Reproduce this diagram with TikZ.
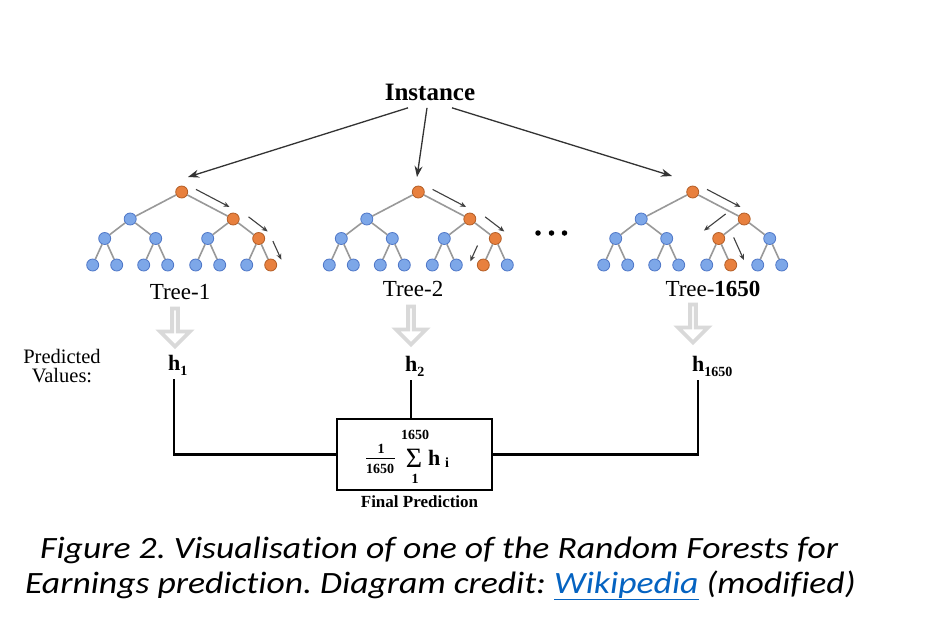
\documentclass[tikz,border=0pt]{standalone}
\usepackage{fontspec}
\setmainfont{Liberation Serif}
\newfontfamily\capfont[Ligatures=NoCommon]{Carlito}
\usetikzlibrary{arrows.meta, positioning, shapes.arrows, calc}
\definecolor{nodeblue}{RGB}{125,167,232}
\definecolor{nodeblueline}{RGB}{80,120,200}
\definecolor{nodeorange}{RGB}{232,128,62}
\definecolor{nodeorangeline}{RGB}{180,95,40}
\definecolor{linkblue}{RGB}{5,99,193}

% one binary tree: name, root x, the three orange nodes below the root
\newcommand\drawtree[5]{%
  \foreach \k/\dx/\dy in {1/0/192, 2/-51.5/219, 3/51.5/219,
      4/-77/238.5, 5/-26/238.5, 6/26/238.5, 7/77/238.5,
      8/-89/265, 9/-65/265, 10/-38/265, 11/-14/265,
      12/14/265, 13/38/265, 14/65/265, 15/89/265}{
    \pgfmathtruncatemacro\hit{(\k==1)||(\k==#3)||(\k==#4)||(\k==#5)}
    \ifnum\hit=1 \def\look{hit}\else\def\look{miss}\fi
    \node[\look] (#1-\k) at ({#2+(\dx)},\dy) {};
  }
  \foreach \k in {2,...,15}{
    \pgfmathtruncatemacro\up{\k/2}
    \draw[branch] (#1-\up) -- (#1-\k);
  }
}

\begin{document}
\begin{tikzpicture}[x=1pt, y=-1pt,
    miss/.style={circle, draw=nodeblueline, fill=nodeblue, minimum size=12pt, inner sep=0pt, line width=0.8pt},
    hit/.style={miss, draw=nodeorangeline, fill=nodeorange},
    branch/.style={gray!80, line width=1.6pt},
    route/.style={-{Stealth[length=6pt, width=5pt]}, black!75, line width=1.1pt},
    feed/.style={-{Stealth[length=11pt, width=8pt]}, black!80, line width=1.3pt},
    hollow/.style={single arrow, rotate=-90, draw=gray!30, fill=white, line width=3.8pt,
        minimum height=38pt, minimum width=30pt, single arrow head extend=8pt, inner sep=0pt},
    dot/.style={circle, fill=black, minimum size=5.5pt, inner sep=0pt},
    tlbl/.style={font=\fontsize{23}{26}\selectfont},
    hval/.style={font=\fontsize{22}{24}\selectfont\bfseries, inner sep=0pt, anchor=base west},
    sumtxt/.style={font=\fontsize{14}{14}\selectfont\bfseries, inner sep=0pt},
    link/.style={line width=2.5pt, black},
    caption/.style={anchor=base west, inner sep=0pt, font=\capfont\itshape\fontsize{31}{36}\selectfont\frenchspacing}
  ]
  \path[use as bounding box, fill=white] (0,0) rectangle (950,619);

  \node[font=\fontsize{25}{28}\selectfont\bfseries] (inst) at (430,92) {Instance};

  \drawtree{t1}{181.7}{3}{7}{15}
  \drawtree{t2}{418.3}{3}{7}{14}
  \drawtree{t3}{692.7}{3}{6}{13}

  \coordinate (in1) at (188,177);
  \coordinate (in2) at (417,177);
  \coordinate (in3) at (672,176);
  \draw[feed] ([xshift=-22pt, yshift=-4pt]inst.south) -- (in1);
  \draw[feed] ([xshift=-3pt, yshift=-4pt]inst.south) -- (in2);
  \draw[feed] ([xshift=22pt, yshift=-4pt]inst.south) -- (in3);

  % decision paths
  \foreach \t in {t1,t2,t3}
    \draw[route] ($(\t-1)!.2!(\t-3)+(4,-8)$) -- ($(\t-1)!.85!(\t-3)+(4,-8)$);
  \foreach \t in {t1,t2}
    \draw[route] ($(\t-3)!.25!(\t-7)+(9,-7)$) -- ($(\t-3)!1!(\t-7)+(9,-7)$);
  \draw[route] ($(t1-7)!.1!(t1-15)+(13,0)$) -- ($(t1-7)!.8!(t1-15)+(13,0)$);
  \draw[route] ($(t2-7)!.15!(t2-14)+(-16,3)$) -- ($(t2-7)!.75!(t2-14)+(-16,3)$);
  \draw[route] ($(t3-3)!.1!(t3-6)+(-16,-7)$) -- ($(t3-3)!.95!(t3-6)+(-16,-7)$);
  \draw[route] ($(t3-6)!0!(t3-13)+(15,-1)$) -- ($(t3-6)!.85!(t3-13)+(15,-1)$);

  \foreach \x [count=\i] in {538,551.5,564.5}
    \node[dot] (more\i) at (\x,233) {};

  \node[tlbl] (lbl1) at (180,292) {Tree-1};
  \node[tlbl] (lbl2) at (413,289) {Tree-2};
  \node[tlbl] (lbl3) at (713,289) {Tree-\textbf{1650}};

  \node[hollow] (down1) at (175,326) {};
  \node[hollow] (down2) at (411,324) {};
  \node[hollow] (down3) at (693,322) {};

  \node[align=center, font=\fontsize{20.5}{18.5}\selectfont, inner sep=1pt] (predlbl) at (62,366) {Predicted\\Values:};

  \node[hval] (h1) at (168,370) {h\raisebox{-5pt}{\fontsize{14}{14}\selectfont 1}};
  \node[hval] (h2) at (405,371) {h\raisebox{-5pt}{\fontsize{14}{14}\selectfont 2}};
  \node[hval] (h3) at (692,371) {h\raisebox{-5pt}{\fontsize{14}{14}\selectfont 1650}};

  % averaging box
  \node[draw, line width=2pt, minimum width=155pt, minimum height=71pt] (avg) at (414.5,454.5) {};
  \node[sumtxt, anchor=base] (fnum) at (381,453) {1};
  \node[sumtxt, anchor=base] (fden) at (380,473) {1650};
  \draw[line width=0.8pt] (366,458.5) -- (395,458.5);
  \node[font=\fontsize{28}{28}\selectfont, inner sep=0pt, anchor=base] (sig) at (414,467) {Σ};
  \node[sumtxt] (stop) at (415,435) {1650};
  \node[sumtxt] (sbot) at (415,479) {1};
  \node[hval] (hsum) at (428,465) {h};
  \node[sumtxt, anchor=base west] (isum) at (445,467) {i};
  \node[below=3pt of avg, xshift=5pt, font=\fontsize{17}{20}\selectfont\bfseries, inner sep=1pt] (final) {Final Prediction};

  \draw[link] ([xshift=6pt, yshift=-4pt]h1.south west) |- (avg.west);
  \draw[link] ([xshift=6pt, yshift=-4pt]h3.south west) |- (avg.east);
  \draw[link] ([xshift=6pt, yshift=-4pt]h2.south west) coordinate (drop) -- (drop |- avg.north);

  \node[caption] (cap1) at (40,558)
    {\scalebox{1.15}[1]{Figure 2. Visualisation of one of the Random Forests for}};
  \node[caption] (cap2) at (25,593)
    {\scalebox{1.15}[1]{Earnings prediction. Diagram credit: \textcolor{linkblue}{\underline{Wikipedia}} (modified)}};
\end{tikzpicture}
\end{document}
